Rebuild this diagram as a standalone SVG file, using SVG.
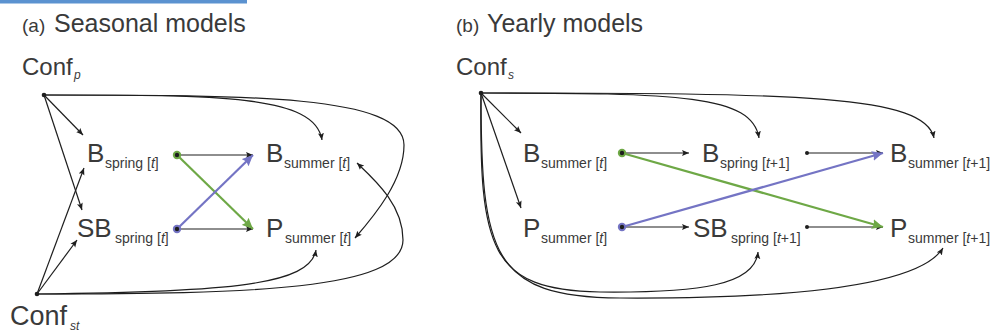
<svg xmlns="http://www.w3.org/2000/svg" width="992" height="331" viewBox="0 0 992 331">
<style>
text{font-family:"Liberation Sans",Arial,sans-serif;fill:#3a3a3a}
.t1{font-size:19px}
.t2{font-size:25px}
.conf{font-size:24px}
.big{font-size:26px}
.sub{font-size:14px}
.it{font-style:italic}
.csub{font-size:12px;font-style:italic}
.ln{fill:none;stroke:#1e1e1e;stroke-width:1.2}
.ar{marker-end:url(#ah)}
.gr{fill:none;stroke:#6ea846;stroke-width:2.2;marker-end:url(#ag)}
.pu{fill:none;stroke:#7474c4;stroke-width:2.2;marker-end:url(#ap)}
.dot{fill:#1e1e1e}
</style>
<defs>
<marker id="ah" viewBox="0 0 8 8" refX="8" refY="4" markerWidth="7" markerHeight="7" markerUnits="userSpaceOnUse" orient="auto"><path d="M0,0.6 L8,4 L0,7.4 L1.6,4 z" fill="#1e1e1e"/></marker>
<marker id="ag" viewBox="0 0 10 10" refX="10" refY="5" markerWidth="11" markerHeight="11" markerUnits="userSpaceOnUse" orient="auto"><path d="M0,0.5 L10,5 L0,9.5 L1.5,5 z" fill="#6ea846"/></marker>
<marker id="ap" viewBox="0 0 10 10" refX="10" refY="5" markerWidth="11" markerHeight="11" markerUnits="userSpaceOnUse" orient="auto"><path d="M0,0.5 L10,5 L0,9.5 L1.5,5 z" fill="#7474c4"/></marker>
</defs>
<rect x="0" y="0" width="247" height="3.5" fill="#5b92d0"/>
<text x="22" y="32"><tspan class="t1">(a)</tspan><tspan class="t2" x="54">Seasonal models</tspan></text>
<text x="456" y="32"><tspan class="t1">(b)</tspan><tspan class="t2" x="487">Yearly models</tspan></text>

<g id="connectors">
<!-- panel a -->
<path class="ln ar" d="M44,95 L83,135"/>
<path class="ln ar" d="M44,95 L82,210"/>
<path class="ln ar" d="M37,294 L84,168"/>
<path class="ln ar" d="M37,294 L77,240"/>
<path class="ln ar" d="M44,95 C220,95 315,95 322,140"/>
<path class="ln ar" d="M44,95 C250,95 404,95 404,145 C404,180 375,215 355,238"/>
<path class="ln ar" d="M37,294 C230,292 310,285 316,250"/>
<path class="ln ar" d="M37,294 C250,294 403,290 403,240 C403,205 375,180 357,163"/>
<path class="ln ar" d="M177,155 L253,155"/>
<path class="ln ar" d="M177,229 L253,229"/>
<path class="gr" d="M177,155 L253,229"/>
<path class="pu" d="M177,229 L253,155"/>
<circle cx="177" cy="155" r="4.2" fill="#6ea846"/><circle cx="177" cy="155" r="2.2" class="dot"/>
<circle cx="177" cy="229" r="4.2" fill="#7474c4"/><circle cx="177" cy="229" r="2.2" class="dot"/>
<circle cx="44" cy="95" r="2.3" class="dot"/>
<circle cx="37" cy="294" r="2.3" class="dot"/>
<!-- panel b -->
<path class="ln ar" d="M481,93 L521,133"/>
<path class="ln ar" d="M481,93 L521,208"/>
<path class="ln ar" d="M481,93 C680,93 752,95 759,138"/>
<path class="ln ar" d="M481,93 C800,93 925,95 934,138"/>
<path class="ln ar" d="M481,93 C479,250 490,290 600,292 C700,293 755,285 758,252"/>
<path class="ln ar" d="M481,93 C481,255 492,297 620,298 C800,299 920,285 943,248"/>
<path class="ln ar" d="M622,153 L689,153"/>
<path class="ln ar" d="M622,227 L689,227"/>
<path class="ln ar" d="M807,153 L883,153"/>
<path class="ln ar" d="M807,227 L883,227"/>
<path class="gr" d="M622,153 L883,227"/>
<path class="pu" d="M622,227 L883,153"/>
<circle cx="622" cy="153" r="4.2" fill="#6ea846"/><circle cx="622" cy="153" r="2.2" class="dot"/>
<circle cx="622" cy="227" r="4.2" fill="#7474c4"/><circle cx="622" cy="227" r="2.2" class="dot"/>
<circle cx="807" cy="153" r="2" class="dot"/>
<circle cx="807" cy="227" r="2" class="dot"/>
<circle cx="481" cy="93" r="2.3" class="dot"/>
</g>

<g id="conf_p"><text class="conf" x="22" y="75">Conf<tspan class="csub" x="74" y="79">p</tspan></text></g>
<g id="conf_st"><text class="conf" x="10" y="325" style="font-size:27px">Conf<tspan class="csub" x="70" y="329.5" style="font-size:12px">st</tspan></text></g>
<g id="b_spring_t"><text class="big" x="87" y="162">B<tspan class="sub" x="105" y="168">spring [<tspan class="it">t</tspan>]</tspan></text></g>
<g id="sb_spring_t"><text class="big" x="77" y="237">SB<tspan class="sub" x="115" y="243">spring [<tspan class="it">t</tspan>]</tspan></text></g>
<g id="b_summer_t"><text class="big" x="266" y="162">B<tspan class="sub" x="284" y="168">summer [<tspan class="it">t</tspan>]</tspan></text></g>
<g id="p_summer_t"><text class="big" x="266" y="237">P<tspan class="sub" x="285" y="243">summer [<tspan class="it">t</tspan>]</tspan></text></g>

<g id="conf_s"><text class="conf" x="456" y="75">Conf<tspan class="csub" x="508" y="79">s</tspan></text></g>
<g id="b_summer_t_y"><text class="big" x="523" y="162">B<tspan class="sub" x="541" y="168">summer [<tspan class="it">t</tspan>]</tspan></text></g>
<g id="p_summer_t_y"><text class="big" x="523" y="237">P<tspan class="sub" x="541" y="243">summer [<tspan class="it">t</tspan>]</tspan></text></g>
<g id="b_spring_t1"><text class="big" x="702" y="162">B<tspan class="sub" x="720" y="168">spring [<tspan class="it">t</tspan>+1]</tspan></text></g>
<g id="sb_spring_t1"><text class="big" x="693" y="237">SB<tspan class="sub" x="731" y="243">spring [<tspan class="it">t</tspan>+1]</tspan></text></g>
<g id="b_summer_t1"><text class="big" x="890" y="162">B<tspan class="sub" x="908" y="168">summer [<tspan class="it">t</tspan>+1]</tspan></text></g>
<g id="p_summer_t1"><text class="big" x="890" y="237">P<tspan class="sub" x="908" y="243">summer [<tspan class="it">t</tspan>+1]</tspan></text></g>
</svg>
